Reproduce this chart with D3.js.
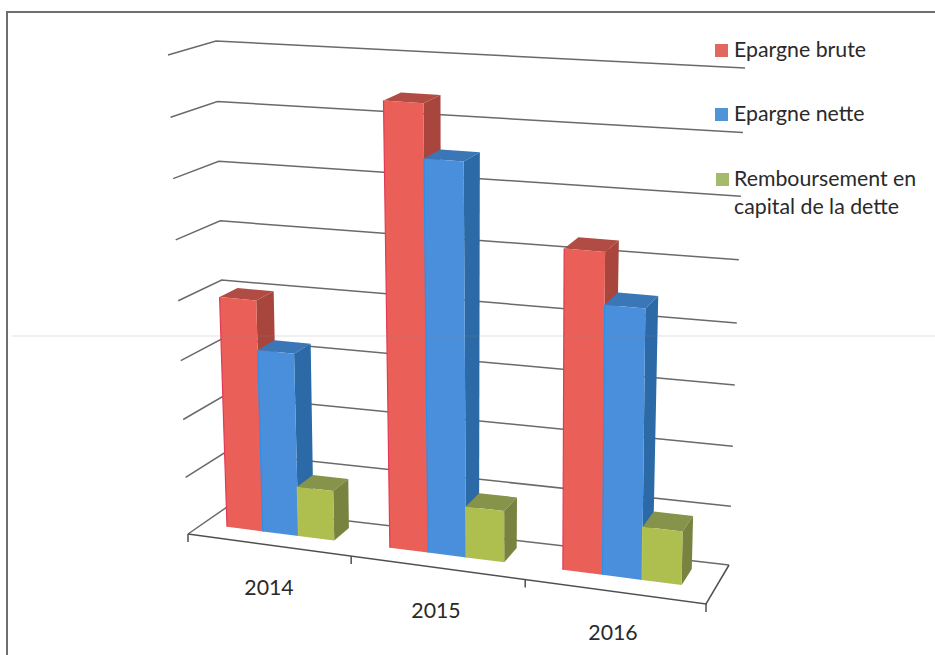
<!DOCTYPE html>
<html lang="fr">
<head>
<meta charset="utf-8">
<title>Epargne brute, épargne nette et remboursement de la dette</title>
<script src="https://cdn.jsdelivr.net/npm/d3@7/dist/d3.min.js"></script>
<style>
html,body{margin:0;padding:0;background:#fff;}
svg{display:block;}
text{font-family:Lato,"Open Sans",sans-serif;fill:#2a2a2a;}
</style>
</head>
<body>
<div id="chart"></div>
<script>
// Chart data, heights expressed in gridline steps
const years = ["2014", "2015", "2016"];
const epargneBrute = [3.97, 7.39, 5.26];
const epargneNette = [3.14, 6.51, 4.43];
const remboursement = [0.87, 0.88, 0.9];
const seriesNames = ["Epargne brute", "Epargne nette", "Remboursement en|capital de la dette"];
const gridSteps = [0, 1, 2, 3, 4, 5, 6, 7, 8];

// Face colours for each series: front, side, top, left edge
const palette = [
  {front: "#ea5f57", side: "#a8463e", top: "#b04c44", edge: "#e23a55", key: "#e2685f"},
  {front: "#4a8fdb", side: "#2b6aa6", top: "#3b76b6", edge: "#2f8ee6", key: "#4f94d6"},
  {front: "#aebf4f", side: "#78833f", top: "#86934a", edge: "#b6c452", key: "#a5bb6c"}
];

const width = 935, height = 655;
const svg = d3.select("#chart").append("svg").attr("width", width).attr("height", height);

// Corners of the 3D plot box in screen space: [x, y] for (across, up, depth)
const box = {
  frontBottomLeft: [188, 534], frontBottomRight: [706, 604],
  backBottomLeft: [227, 507], backBottomRight: [729, 565],
  frontTopLeft: [168, 55], frontTopRight: [712, 93],
  backTopLeft: [216, 41], backTopRight: [745, 68]
};

// Foreshortening: equal data intervals grow a little towards the viewer's side
const across = d3.scaleLinear().domain([0, 1, 2, 3]).range([0, 0.315, 0.651, 1]);
const up = d3.scaleLinear().domain(gridSteps).range([0, 0.118, 0.239, 0.362, 0.487, 0.614, 0.742, 0.87, 1]);
const lerp = (a, b, t) => a + (b - a) * t;

function project(cat, val, depth) {
  const u = across(cat), v = up(val), w = depth;
  const mix = i => {
    const fb = lerp(box.frontBottomLeft[i], box.frontBottomRight[i], u);
    const bb = lerp(box.backBottomLeft[i], box.backBottomRight[i], u);
    const ft = lerp(box.frontTopLeft[i], box.frontTopRight[i], u);
    const bt = lerp(box.backTopLeft[i], box.backTopRight[i], u);
    return lerp(lerp(fb, bb, w), lerp(ft, bt, w), v);
  };
  return [mix(0), mix(1)];
}

const line = d3.line();
const closed = pts => line(pts) + "Z";

// Sheet border
svg.append("path").attr("d", line([[7, 655], [7, 12], [935, 12]]))
  .attr("fill", "none").attr("stroke", "#6e6e6e").attr("stroke-width", 2);

// Gridlines along the left and back walls
const grid = svg.append("g").attr("fill", "none").attr("stroke", "#6a6a6a").attr("stroke-width", 1.5);
gridSteps.forEach(s => {
  grid.append("path").attr("d", line([project(0, s, 0), project(0, s, 1), project(3, s, 1)]));
});

// Floor outline and category ticks
const floor = svg.append("g").attr("fill", "none").attr("stroke", "#505050").attr("stroke-width", 1.5);
floor.append("path").attr("d", line([project(0, 0, 0), project(3, 0, 0), project(3, 0, 1)]));
across.domain().forEach(c => {
  const p = project(c, 0, 0);
  floor.append("path").attr("d", line([p, [p[0], p[1] + 8]]));
});

// Clustered bars, painted left to right so nearer faces cover the earlier ones
const bandStart = 0.15, bandEnd = 0.815, zFront = 0.38, zBack = 0.8;
const seriesBand = d3.scaleBand().domain([0, 1, 2]).range([bandStart, bandEnd]);
const seriesValues = [epargneBrute, epargneNette, remboursement];
const bars = svg.append("g");

years.forEach((year, c) => {
  seriesValues.forEach((values, s) => {
    const x0 = c + seriesBand(s), x1 = x0 + seriesBand.bandwidth();
    const val = values[c], col = palette[s];
    bars.append("path").attr("fill", col.top).attr("d", closed([
      project(x0, val, zFront), project(x1, val, zFront), project(x1, val, zBack), project(x0, val, zBack)]));
    bars.append("path").attr("fill", col.side).attr("d", closed([
      project(x1, 0, zFront), project(x1, val, zFront), project(x1, val, zBack), project(x1, 0, zBack)]));
    bars.append("path").attr("fill", col.front).attr("d", closed([
      project(x0, 0, zFront), project(x1, 0, zFront), project(x1, val, zFront), project(x0, val, zFront)]));
    bars.append("path").attr("fill", "none").attr("stroke", col.edge).attr("stroke-width", 1.2)
      .attr("d", line([project(x0, 0, zFront), project(x0, val, zFront)]));
  });
});

// Faint fold across the sheet, visible over the bars too
svg.append("path").attr("d", line([[12, 336], [935, 336]]))
  .attr("stroke", "#8c8c8c").attr("stroke-opacity", 0.25).attr("stroke-width", 1.2);

// Category labels sit below the front edge of the floor
const labelOffset = [[269, 595], [436, 618], [613, 640]];
svg.append("g").selectAll("text").data(years).join("text")
  .attr("x", (d, i) => labelOffset[i][0]).attr("y", (d, i) => labelOffset[i][1])
  .attr("text-anchor", "middle").attr("font-size", 21.3).text(d => d);

// Legend on the right
const legendRows = [
  {x: 715, y: 44, lines: [[734, 57]]},
  {x: 715, y: 108, lines: [[734, 121]]},
  {x: 716, y: 173, lines: [[734, 186], [734, 214]]}
];
const legend = svg.append("g");
legendRows.forEach((row, i) => {
  legend.append("rect").attr("x", row.x).attr("y", row.y).attr("width", 13).attr("height", 13)
    .attr("fill", palette[i].key);
  seriesNames[i].split("|").forEach((t, j) => {
    legend.append("text").attr("x", row.lines[j][0]).attr("y", row.lines[j][1])
      .attr("font-size", 21.3).text(t);
  });
});
</script>
</body>
</html>
